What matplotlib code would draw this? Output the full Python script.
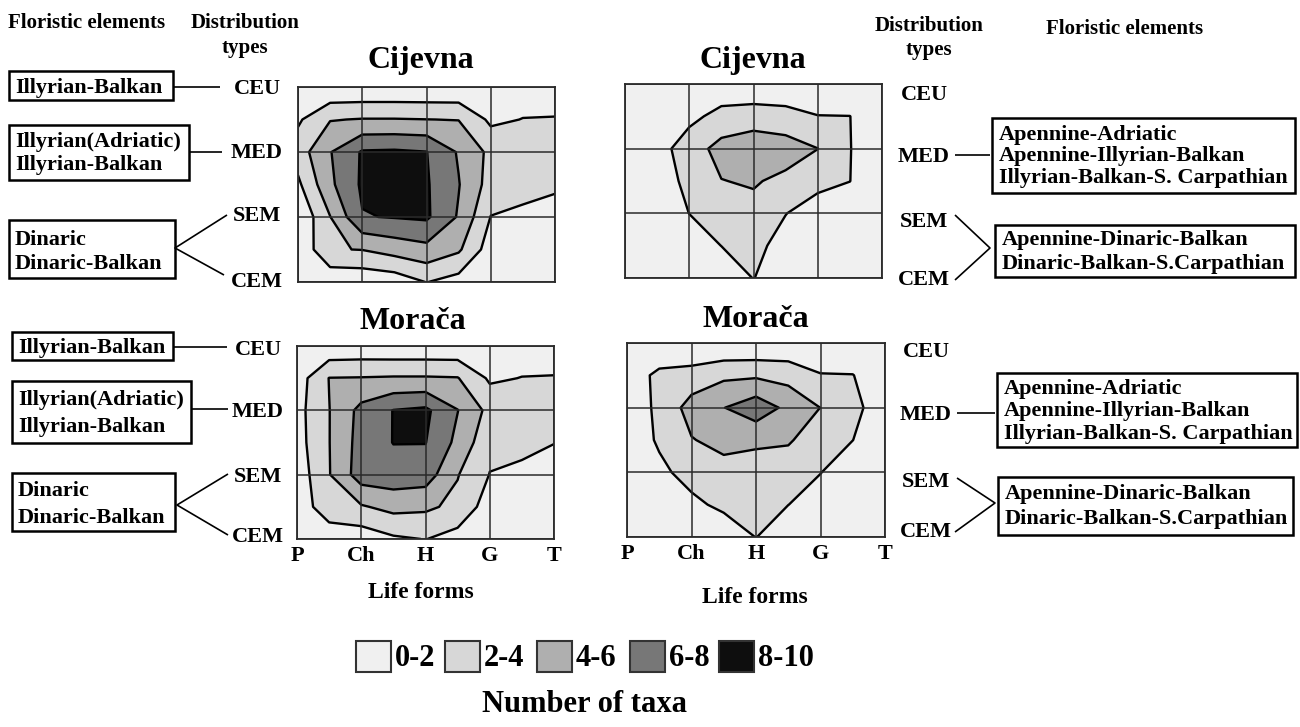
import numpy as np
import matplotlib
matplotlib.use("Agg")
import matplotlib.pyplot as plt
from matplotlib.patches import Rectangle

W, H = 1300, 727
SERIF = "Liberation Serif"

# ---------------- data ----------------
life_forms = ["P", "Ch", "H", "G", "T"]
distribution_types = ["CEU", "MED", "SEM", "CEM"]          # top -> bottom
x_nodes = np.arange(0, 4.01, 0.5)                          # P .. T (half steps)
y_nodes = np.arange(0, 3.01, 0.5)                          # CEM .. CEU (half steps)

# number of taxa on a half-step grid
# rows: CEU (top) -> CEM (bottom); columns: P -> T
cijevna_illyrian = [
    [0.3, 0.2, 0.2, 0.2, 0.2, 0.2, 0.6, 1.0, 1.0],
    [1.7, 3.9, 4.1, 4.1, 4.02, 3.95, 1.6, 2.05, 2.1],
    [3.0, 5.9, 8.2, 8.3, 8.05, 5.8, 3.5, 3.0, 2.9],
    [1.6, 5.6, 8.3, 9.0, 8.2, 6.1, 3.2, 2.8, 2.4],
    [0.2, 3.95, 7.9, 8.1, 8.3, 5.8, 1.95, 1.5, 1.0],
    [0.2, 3.9, 4.05, 4.8, 5.4, 4.3, 1.0, 0.8, 0.8],
    [0.2, 0.4, 0.5, 0.8, 2.05, 1.2, 0.5, 0.5, 0.5],
]
cijevna_apennine = [
    [0.5, 0.5, 0.6, 0.7, 0.7, 0.7, 0.6, 0.5, 0.5],
    [0.5, 0.8, 1.5, 2.6, 2.8, 2.6, 2.05, 2.02, 0.8],
    [0.5, 1.2, 3.0, 4.7, 5.5, 5.0, 4.02, 2.05, 0.8],
    [0.5, 0.8, 2.6, 3.95, 4.2, 3.5, 2.6, 2.02, 0.7],
    [0.5, 0.5, 2.02, 2.9, 3.4, 2.05, 1.0, 1.0, 0.5],
    [0.5, 0.5, 1.0, 2.02, 2.6, 1.2, 0.5, 0.5, 0.5],
    [0.5, 0.5, 0.5, 0.8, 2.05, 0.8, 0.5, 0.5, 0.5],
]
moraca_illyrian = [
    [0.4, 0.4, 0.5, 0.4, 0.4, 0.4, 0.7, 1.0, 1.0],
    [1.0, 4.05, 4.1, 4.2, 4.2, 4.1, 1.7, 2.05, 2.1],
    [1.3, 3.95, 6.6, 8.05, 8.4, 6.05, 3.4, 3.0, 2.9],
    [1.2, 3.95, 6.8, 8.05, 8.05, 5.5, 2.5, 2.6, 2.05],
    [0.8, 3.9, 7.0, 7.2, 7.0, 4.1, 1.95, 1.5, 1.0],
    [0.5, 3.5, 3.8, 4.6, 4.37, 3.5, 1.0, 0.8, 0.8],
    [0.3, 0.4, 0.8, 1.7, 2.05, 1.2, 0.5, 0.5, 0.5],
]
moraca_apennine = [
    [0.2, 0.1, 0.1, 0.1, 0.1, 0.3, 0.5, 0.5, 0.3],
    [0.8, 2.5, 2.8, 3.6, 3.7, 3.3, 2.1, 2.05, 0.8],
    [0.8, 2.4, 4.8, 5.95, 7.2, 5.5, 3.98, 2.6, 0.8],
    [0.5, 2.3, 3.9, 4.6, 4.4, 4.2, 3.0, 2.02, 0.6],
    [0.3, 1.5, 2.8, 3.3, 3.0, 3.0, 2.05, 0.8, 0.3],
    [0.3, 0.5, 1.5, 2.5, 2.8, 2.02, 1.0, 0.5, 0.3],
    [0.3, 0.3, 0.3, 0.5, 2.05, 0.5, 0.3, 0.3, 0.3],
]

levels = [0, 2, 4, 6, 8, 10]
level_colors = ["#f0f0f0", "#d7d7d7", "#afafaf", "#777777", "#0e0e0e"]

illyrian_elements = [["Illyrian-Balkan"],
                     ["Illyrian(Adriatic)", "Illyrian-Balkan"],
                     ["Dinaric", "Dinaric-Balkan"]]
apennine_elements = [["Apennine-Adriatic", "Apennine-Illyrian-Balkan",
                      "Illyrian-Balkan-S. Carpathian"],
                     ["Apennine-Dinaric-Balkan", "Dinaric-Balkan-S.Carpathian"]]

# ---------------- figure ----------------
fig = plt.figure(figsize=(13, 7.27), dpi=100)
fig.patch.set_facecolor("white")
ov = fig.add_axes([0, 0, 1, 1])
ov.set_xlim(0, W)
ov.set_ylim(H, 0)
ov.axis("off")

PX = 100 / 72.0


def label(x, y, s, size, ha="left"):
    """text whose capital letters are centred on y (pixel coords)"""
    ov.text(x, y + 0.33 * size * PX, s, fontsize=size, fontweight="bold",
            ha=ha, va="baseline", family=SERIF, color="black")


def box(x0, y0, x1, y1):
    ov.add_patch(Rectangle((x0, y0), x1 - x0, y1 - y0, fill=False,
                           ec="black", lw=1.8))


def line(xs, ys):
    ov.plot(xs, ys, color="black", lw=1.2, solid_capstyle="butt")


def panel(rect, data, title, title_xy, bottom):
    x0, y0, x1, y1 = rect
    ax = fig.add_axes([x0 / W, 1 - y1 / H, (x1 - x0) / W, (y1 - y0) / H])
    Z = np.array(data)[::-1]
    ax.contourf(x_nodes, y_nodes, Z, levels=levels, colors=level_colors)
    ax.contour(x_nodes, y_nodes, Z, levels=levels[1:-1], colors="black",
               linewidths=1.7)
    ax.set_xlim(0, 4)
    ax.set_ylim(0, 3)
    ax.set_xticks(range(len(life_forms)))
    ax.set_yticks(range(len(distribution_types)))
    ax.grid(True, color="#2a2a2a", lw=1.1)
    ax.set_axisbelow(False)
    ax.set_yticklabels([])
    if bottom:
        ax.set_xticklabels(life_forms, fontsize=16, fontweight="bold",
                           family=SERIF)
    else:
        ax.set_xticklabels([])
    ax.tick_params(length=0, pad=5)
    for s in ax.spines.values():
        s.set_color("#2a2a2a")
        s.set_linewidth(1.3)
    label(title_xy[0], title_xy[1], title, 23, ha="center")
    return ax


panel((298, 87, 555, 282), cijevna_illyrian, "Cijevna", (421, 57), False)
panel((625, 84, 882, 278), cijevna_apennine, "Cijevna", (753, 57), False)
panel((297, 346, 554, 539), moraca_illyrian, "Morača", (413, 318), True)
panel((627, 343, 885, 537), moraca_apennine, "Morača", (756, 316), True)

# headers
label(8, 21, "Floristic elements", 15)
label(245, 21, "Distribution", 15, ha="center")
ov.text(245, 46 + 0.33 * 15 * PX, "types", fontsize=15, fontweight="bold",
        ha="center", va="baseline", family=SERIF)
label(929, 24, "Distribution", 15, ha="center")
ov.text(929, 48 + 0.33 * 15 * PX, "types", fontsize=15, fontweight="bold",
        ha="center", va="baseline", family=SERIF)
label(1125, 27, "Floristic elements", 15, ha="center")

# distribution type labels
dist_pos = {
    "TL": (257, [87, 151, 214, 280]),
    "BL": (258, [348, 410, 475, 535]),
    "TR": (924, [93, 155, 220, 278]),
    "BR": (926, [350, 413, 480, 530]),
}
for key, (xc, ys) in dist_pos.items():
    for name, yy in zip(distribution_types, ys):
        label(xc, yy, name, 16, ha="center")

# left floristic element boxes (both rows)
for (b1, b2, b3), (ly1, ly2, l3) in [
        (((9, 71, 173, 100), (9, 125, 189, 180), (9, 220, 175, 278)),
         ((86,), (140, 163), (238, 262))),
        (((12, 332, 173, 360), (12, 381, 191, 443), (12, 473, 175, 531)),
         ((346,), (398, 425), (489, 516)))]:
    for bx, ys, lines in zip((b1, b2, b3), (ly1, ly2, l3), illyrian_elements):
        box(*bx)
        for yy, s in zip(ys, lines):
            label(bx[0] + 6, yy, s, 16)

line([173, 220], [87, 87])
line([189, 222], [152, 152])
line([227, 175, 224], [215, 248, 275])
line([173, 227], [347, 347])
line([191, 228], [409, 409])
line([228, 177, 228], [474, 505, 535])

# right floristic element boxes
for (b1, b2), (ys1, ys2) in [
        (((992, 118, 1295, 193), (995, 225, 1295, 277)),
         ((133, 154, 176), (238, 262))),
        (((997, 373, 1297, 447), (998, 477, 1293, 535)),
         ((387, 409, 432), (492, 517)))]:
    for bx, ys, lines in zip((b1, b2), (ys1, ys2), apennine_elements):
        box(*bx)
        for yy, s in zip(ys, lines):
            label(bx[0] + 7, yy, s, 16)

line([955, 990], [155, 155])
line([955, 990, 955], [215, 248, 280])
line([957, 995], [413, 413])
line([957, 995, 955], [478, 503, 532])

# axis titles
label(421, 590, "Life forms", 17, ha="center")
label(755, 595, "Life forms", 17, ha="center")

# legend
leg_x = [356, 445, 537, 630, 719]
for i, (xx, c) in enumerate(zip(leg_x, level_colors)):
    ov.add_patch(Rectangle((xx, 641), 35, 31, fc=c, ec="#333333", lw=1.5))
    label(xx + 39, 656, f"{levels[i]}-{levels[i + 1]}", 22)
label(584, 702, "Number of taxa", 22, ha="center")

fig.savefig("out.png", dpi=100, facecolor="white")
